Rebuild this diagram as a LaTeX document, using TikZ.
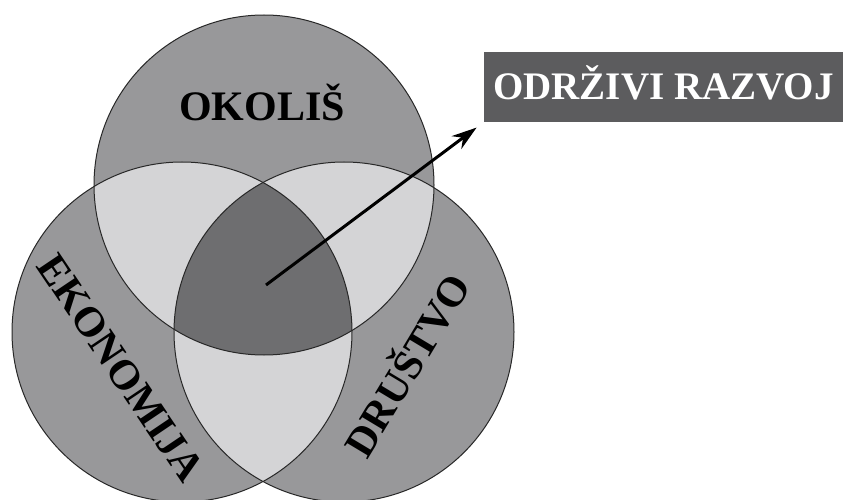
\documentclass[tikz,border=0pt]{standalone}
\usepackage{fontspec}
\setmainfont{Liberation Serif}
\usetikzlibrary{arrows.meta}
\definecolor{outergray}{RGB}{152,152,154}
\definecolor{pairgray}{RGB}{212,212,214}
\definecolor{centergray}{RGB}{110,110,112}
\definecolor{boxgray}{RGB}{92,92,94}
\definecolor{edgegray}{RGB}{40,40,40}
\begin{document}
\begin{tikzpicture}[x=1pt,y=-1pt,
  ring/.style={draw=edgegray,line width=1pt},
  lab/.style={font=\fontsize{42}{42}\selectfont\bfseries,text=black,inner sep=0pt,text height=28pt,text depth=0pt},
  titlebox/.style={fill=boxgray,text=white,font=\fontsize{39}{39}\selectfont\bfseries,minimum width=359pt,minimum height=70pt,inner sep=0pt,text height=26pt,text depth=0pt},
  arr/.style={-{Stealth[length=25pt,width=16pt]},line width=3pt,black}]
\useasboundingbox (0,0) rectangle (847,500);
\clip (0,0) rectangle (847,500);
\coordinate (T) at (264,185);
\coordinate (L) at (182,332);
\coordinate (R) at (344,332);
% base fills
\fill[outergray] (T) circle (170pt);
\fill[outergray] (L) circle (170pt);
\fill[outergray] (R) circle (170pt);
% pairwise intersections
\begin{scope}
  \clip (T) circle (170pt);
  \fill[pairgray] (L) circle (170pt);
  \fill[pairgray] (R) circle (170pt);
\end{scope}
\begin{scope}
  \clip (L) circle (170pt);
  \fill[pairgray] (R) circle (170pt);
\end{scope}
% triple intersection
\begin{scope}
  \clip (T) circle (170pt);
  \clip (L) circle (170pt);
  \fill[centergray] (R) circle (170pt);
\end{scope}
% outlines
\draw[ring] (T) circle (170pt);
\draw[ring] (L) circle (170pt);
\draw[ring] (R) circle (170pt);
% labels
\node[lab] (okolis) at (262,107) {OKOLIŠ};
\node[lab,rotate=-56] (ekonomija) at (121,368) {EKONOMIJA};
\node[lab,rotate=59] (drustvo) at (408,366) {DRUŠTVO};
% title box
\node[titlebox] (odrzivi) at (663.5,87) {ODRŽIVI RAZVOJ};
% arrow
\coordinate (tail) at (266,285);
\draw[arr,shorten >=9pt] (tail) -- (odrzivi.south west);
\end{tikzpicture}
\end{document}
